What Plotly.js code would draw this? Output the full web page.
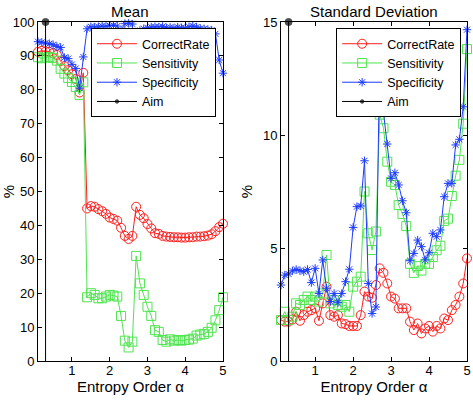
<!DOCTYPE html>
<html>
<head>
<meta charset="utf-8">
<script src="https://cdn.plot.ly/plotly-3.0.1.min.js"></script>
<style>html,body{margin:0;padding:0;background:#fff;}#chart{width:473px;height:401px;}</style>
</head>
<body>
<div id="chart"></div>
<script>
// Entropy order alpha
var alpha = [0.1,0.2,0.3,0.4,0.5,0.6,0.7,0.8,0.9,1.0,
             1.1,1.2,1.3,1.4,1.5,1.6,1.7,1.8,1.9,2.0,
             2.1,2.2,2.3,2.4,2.5,2.6,2.7,2.8,2.9,3.0,
             3.1,3.2,3.3,3.4,3.5,3.6,3.7,3.8,3.9,4.0,
             4.1,4.2,4.3,4.4,4.5,4.6,4.7,4.8,4.9,5.0];

// Mean (%)
var meanCorrectRate = [91.2,91.5,91.3,91.2,90.8,90.3,88.5,87.0,85.8,84.6,
                       83.2,79.2,85.0,45.0,45.7,45.5,44.8,44.2,43.4,42.3,
                       41.9,41.4,39.3,36.9,36.0,36.9,45.5,43.1,42.1,40.4,
                       39.1,37.7,37.5,36.9,36.7,36.6,36.5,36.5,36.4,36.4,
                       36.5,36.5,36.7,36.7,36.8,37.0,37.4,38.3,39.5,40.5];
var meanSensitivity = [89.6,89.3,89.5,89.7,89.4,88.6,86.2,84.8,83.5,82.3,
                       80.8,78.5,82.2,18.8,20.0,19.5,18.5,18.5,19.0,19.5,
                       19.3,19.0,13.3,6.0,4.0,5.7,31.0,22.9,19.5,16.0,
                       13.3,9.1,8.6,6.2,5.7,6.4,6.0,6.2,6.0,6.2,
                       6.3,6.6,7.5,7.8,8.0,8.6,9.8,12.0,15.0,18.8];
var meanSpecificity = [94.2,94.0,93.8,93.6,93.3,92.8,92.5,89.5,89.2,87.5,
                       86.3,80.5,89.7,98.0,98.6,98.5,98.6,98.8,98.7,98.9,
                       99.0,98.8,97.5,99.5,99.6,99.4,74.8,97.5,98.0,98.3,
                       98.5,98.6,98.5,98.7,98.3,98.4,98.2,98.5,98.3,98.2,
                       98.6,98.8,98.5,98.1,98.0,97.8,97.6,96.5,88.8,84.9];

// Standard deviation (%)
var sdCorrectRate = [1.81,1.74,1.74,1.84,2.18,1.78,2.03,2.18,2.25,2.33,
                     1.78,2.55,3.29,2.03,1.96,2.03,1.66,1.63,1.55,1.55,
                     1.55,2.03,3.07,2.85,2.80,3.36,4.10,3.90,3.43,2.85,
                     2.76,2.33,2.33,2.33,1.74,1.37,1.66,1.22,1.44,1.55,
                     1.30,1.55,1.44,1.88,1.81,2.25,2.48,2.85,3.43,4.54];
var sdSensitivity = [1.81,2.18,1.81,1.96,2.55,2.48,2.70,2.85,2.70,2.85,
                     2.63,2.99,4.69,2.55,2.70,2.48,2.40,2.48,2.18,3.29,
                     3.51,3.73,7.50,5.65,4.91,5.73,10.9,10.3,8.82,7.93,
                     7.79,6.90,6.50,5.97,4.30,3.90,4.20,4.00,4.30,4.30,
                     4.60,4.90,5.10,6.20,6.30,7.30,8.20,8.90,10.50,13.80];
var sdSpecificity = [3.36,3.80,3.85,3.99,4.05,4.00,3.95,4.05,3.47,4.10,
                     2.99,4.47,3.22,2.63,2.99,2.58,2.99,3.51,4.06,5.91,
                     6.83,6.86,8.86,3.43,2.10,2.39,13.5,11.0,9.60,8.08,
                     8.33,7.79,7.09,6.56,4.44,4.76,5.35,5.06,4.47,4.79,
                     5.65,5.50,5.80,7.27,7.86,7.86,9.56,9.81,11.25,14.66];

// Aim line
var aimX = [0.3, 0.3];
var aimMeanY = [100, 0];
var aimSdY = [15, 0];

var seriesNames = ['CorrectRate','Sensitivity','Specificity','Aim'];
var panelTitles = ['Mean','Standard Deviation'];
var xTitle = 'Entropy Order \u03b1';
var yTitle = '%';

var RED = 'rgb(255,30,30)', GREEN = 'rgb(80,228,80)', BLUE = 'rgb(30,60,255)', BLACK = '#000';
var FONT = 'Liberation Sans, Arial, sans-serif';

function tr(x, y, name, color, symbol, size, xa, ya, leg) {
  return {
    x: x, y: y, name: name, type: 'scatter', mode: 'lines+markers',
    xaxis: xa, yaxis: ya, legend: leg, showlegend: true,
    line: {color: color, width: 1},
    marker: {symbol: symbol, size: size, color: color, line: {color: color, width: 1}},
    cliponaxis: false
  };
}

var data = [
  tr(alpha, meanCorrectRate, seriesNames[0], RED, 'circle-open', 9, 'x', 'y', 'legend'),
  tr(alpha, meanSensitivity, seriesNames[1], GREEN, 'square-open', 9, 'x', 'y', 'legend'),
  tr(alpha, meanSpecificity, seriesNames[2], BLUE, 'asterisk-open', 7, 'x', 'y', 'legend'),
  tr(aimX, aimMeanY, seriesNames[3], BLACK, 'circle', [7, 0], 'x', 'y', 'legend'),
  tr(alpha, sdCorrectRate, seriesNames[0], RED, 'circle-open', 9, 'x2', 'y2', 'legend2'),
  tr(alpha, sdSensitivity, seriesNames[1], GREEN, 'square-open', 9, 'x2', 'y2', 'legend2'),
  tr(alpha, sdSpecificity, seriesNames[2], BLUE, 'asterisk-open', 7, 'x2', 'y2', 'legend2'),
  tr(aimX, aimSdY, seriesNames[3], BLACK, 'circle', [7, 0], 'x2', 'y2', 'legend2')
];

function xax(domain, anchor) {
  return {
    domain: domain, anchor: anchor, range: [0.1, 5],
    tickvals: [1,2,3,4,5], ticktext: ['1','2','3','4','5'],
    ticks: 'inside', ticklen: 4, tickcolor: '#000', tickwidth: 1,
    showline: true, linecolor: '#000', linewidth: 1, mirror: 'ticks',
    showgrid: false, zeroline: false, ticklabelstandoff: -3,
    tickfont: {family: FONT, size: 13, color: '#000'},
    title: {text: xTitle, font: {family: FONT, size: 15, color: '#000'}, standoff: 0}
  };
}
function yax(range, tv, anchor) {
  return {
    range: range, anchor: anchor, tickvals: tv,
    ticks: 'inside', ticklen: 4, tickcolor: '#000', tickwidth: 1,
    showline: true, linecolor: '#000', linewidth: 1, mirror: 'ticks',
    showgrid: false, zeroline: false,
    tickfont: {family: FONT, size: 13, color: '#000'},
    title: {text: yTitle, font: {family: FONT, size: 15, color: '#000'}, standoff: 6}
  };
}

var leftDom = [0, 0.4312], rightDom = [0.5664, 1];

var legendStyle = function(x) {
  return {
    x: x, xanchor: 'left', y: 0.982, yanchor: 'top',
    bgcolor: '#fff', bordercolor: '#000', borderwidth: 1,
    font: {family: FONT, size: 12.5, color: '#000'},
    itemwidth: 40, tracegroupgap: 0, itemclick: false
  };
};

var layout = {
  width: 473, height: 401,
  margin: {l: 38, r: 6, t: 22, b: 40},
  paper_bgcolor: '#fff', plot_bgcolor: '#fff',
  font: {family: FONT, color: '#000'},
  xaxis: xax(leftDom, 'y'),
  yaxis: yax([0, 100], [0,10,20,30,40,50,60,70,80,90,100], 'x'),
  xaxis2: xax(rightDom, 'y2'),
  yaxis2: yax([0, 15], [0,5,10,15], 'x2'),
  legend: legendStyle(0.1235),
  legend2: legendStyle(0.695),
  annotations: [
    {text: panelTitles[0], xref: 'paper', yref: 'paper', x: (leftDom[0]+leftDom[1])/2, y: 1, yanchor: 'bottom', xanchor: 'center', showarrow: false, font: {family: FONT, size: 15, color: '#000'}},
    {text: panelTitles[1], xref: 'paper', yref: 'paper', x: (rightDom[0]+rightDom[1])/2, y: 1, yanchor: 'bottom', xanchor: 'center', showarrow: false, font: {family: FONT, size: 15, color: '#000'}}
  ]
};

Plotly.newPlot('chart', data, layout, {displayModeBar: false, staticPlot: true});
</script>
</body>
</html>
